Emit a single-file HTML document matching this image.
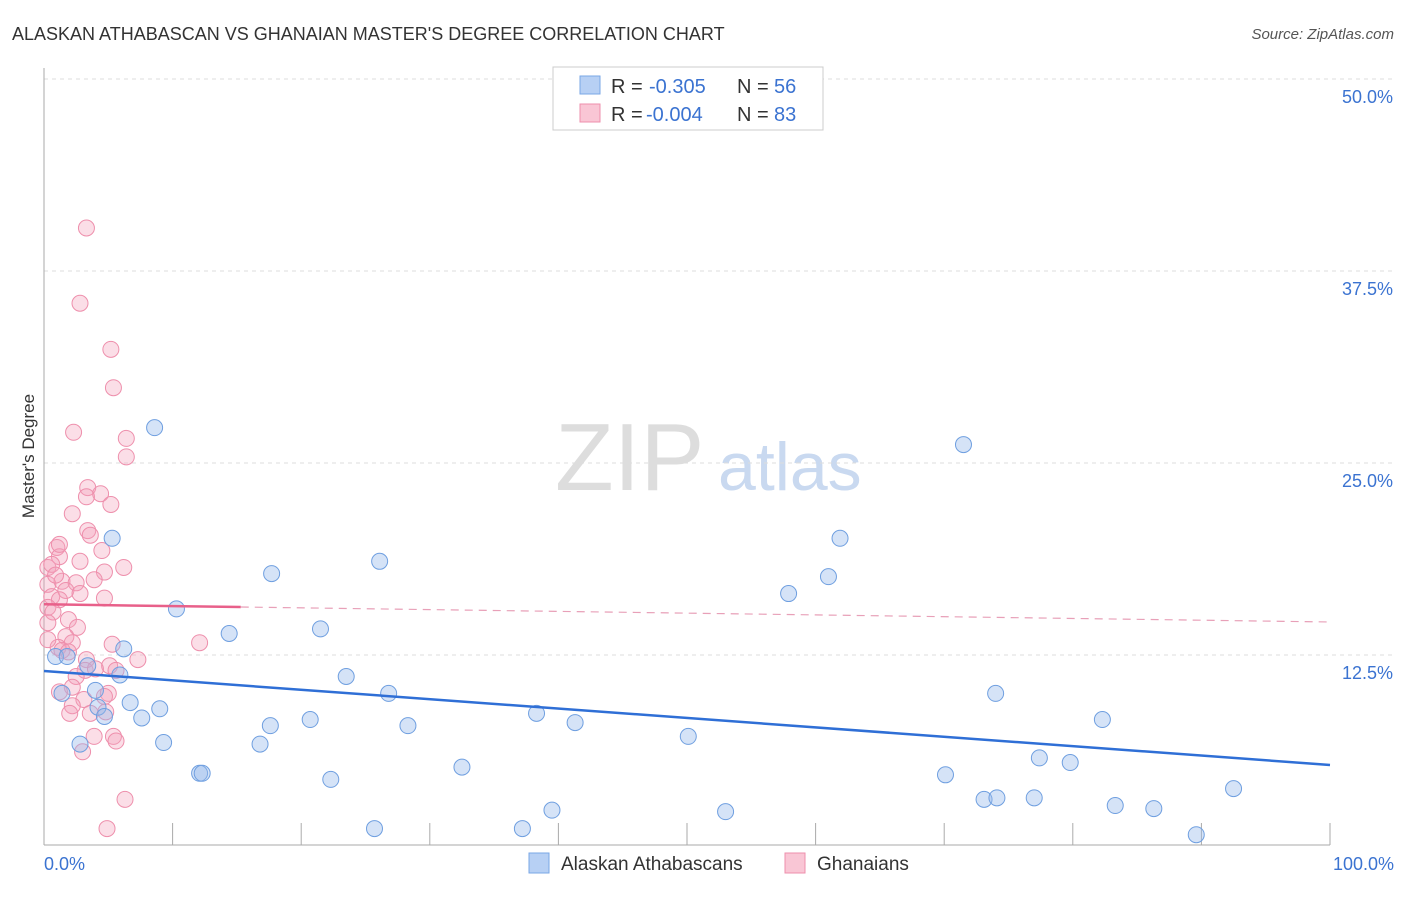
<!DOCTYPE html>
<html><head><meta charset="utf-8"><style>
body{margin:0;background:#fff;font-family:"Liberation Sans",sans-serif;}
svg text{font-family:"Liberation Sans",sans-serif;}
</style></head><body>
<svg id="c" width="1406" height="892">
<text x="12" y="40" font-size="18" fill="#333">ALASKAN ATHABASCAN VS GHANAIAN MASTER'S DEGREE CORRELATION CHART</text>
<text x="1394" y="39" font-size="15" fill="#555" font-style="italic" text-anchor="end">Source: ZipAtlas.com</text>
<text x="34" y="456" font-size="17" fill="#333" text-anchor="middle" transform="rotate(-90 34 456)">Master's Degree</text>
<text x="555" y="490" font-size="96" fill="#ddd" font-family="Liberation Serif">ZIP</text>
<text x="718" y="490" font-size="68" fill="#c9d9f0">atlas</text>
<g id="grid"></g><g id="pts"></g><g id="trend"></g>
<g>
<rect x="553" y="67" width="270" height="63" fill="#fff" stroke="#ccc"/>
<rect x="580" y="76" width="20" height="18" fill="#b7d0f4" stroke="#7aa7e6"/>
<rect x="580" y="104" width="20" height="18" fill="#f9c6d5" stroke="#ee8fac"/>
<g font-size="20">
<text x="611" y="93" fill="#333">R =</text><text x="649" y="93" fill="#3b73d1">-0.305</text>
<text x="737" y="93" fill="#333">N =</text><text x="774" y="93" fill="#3b73d1">56</text></g>
<g font-size="20">
<text x="611" y="121" fill="#333">R =</text><text x="646" y="121" fill="#3b73d1">-0.004</text>
<text x="737" y="121" fill="#333">N =</text><text x="774" y="121" fill="#3b73d1">83</text></g>
</g>
<g>
<rect x="529" y="853" width="20" height="20" fill="#b7d0f4" stroke="#7aa7e6"/>
<text x="561" y="870" font-size="19" fill="#333">Alaskan Athabascans</text>
<rect x="785" y="853" width="20" height="20" fill="#f9c6d5" stroke="#ee8fac"/>
<text x="817" y="870" font-size="19" fill="#333">Ghanaians</text>
</g>
</svg>
<script>
const yTicks=[12.5,25,37.5,50];
const yTickLabels=["12.5%","25.0%","37.5%","50.0%"];
const blueX=[8.6,71.5,5.3,61.9,26.1,17.7,61.0,57.9,10.3,14.4,21.5,6.2,0.9,1.8,23.5,3.4,5.9,4.0,1.4,26.8,74.0,6.7,9.0,4.2,4.7,7.6,20.7,17.6,28.3,38.3,41.3,82.3,2.8,9.3,16.8,50.1,12.1,12.3,32.5,22.3,77.4,79.8,70.1,92.5,73.1,74.1,77.0,39.5,53.0,83.3,86.3,25.7,37.2,89.6];
const blueY=[27.3,26.2,20.1,20.1,18.6,17.8,17.6,16.5,15.5,13.9,14.2,12.9,12.4,12.4,11.1,11.8,11.2,10.2,10.0,10.0,10.0,9.4,9.0,9.1,8.5,8.4,8.3,7.9,7.9,8.7,8.1,8.3,6.7,6.8,6.7,7.2,4.8,4.8,5.2,4.4,5.8,5.5,4.7,3.8,3.1,3.2,3.2,2.4,2.3,2.7,2.5,1.2,1.2,0.8];
const pinkX=[3.3,2.8,5.2,5.4,2.3,6.4,6.4,3.4,4.4,3.3,5.2,2.2,3.4,3.6,4.5,1.0,2.8,1.2,0.3,0.6,6.2,4.7,3.9,1.4,2.5,0.3,1.7,0.6,4.7,1.2,2.8,0.3,0.7,1.9,2.6,0.3,1.7,2.2,1.1,1.4,1.9,5.3,7.3,12.1,3.3,5.1,3.2,4.0,5.6,2.5,2.2,1.2,5.0,4.7,3.1,2.2,2.0,3.6,4.8,3.9,5.4,5.6,3.0,6.3,4.9,1.2,0.9,0.3];
const pinkY=[40.3,35.4,32.4,29.9,27.0,26.6,25.4,23.4,23.0,22.8,22.3,21.7,20.6,20.3,19.3,19.5,18.6,18.9,18.2,18.4,18.2,17.9,17.4,17.3,17.2,17.1,16.7,16.3,16.2,16.1,16.5,15.6,15.3,14.8,14.3,14.6,13.7,13.3,13.0,12.8,12.7,13.2,12.2,13.3,12.2,11.8,11.5,11.6,11.5,11.1,10.4,10.1,10.0,9.8,9.6,9.2,8.7,8.7,8.8,7.2,7.2,6.9,6.2,3.1,1.2,19.7,17.7,13.5];
const blueTrend=[11.46,5.34];
const pinkTrend=[15.8,14.65];
const NS="http://www.w3.org/2000/svg";
const X0=44,X1=1330,Y0=847,PPU=15.36;
const sx=v=>X0+(X1-X0)*v/100, sy=v=>Y0-v*PPU;
function mk(tag,a,parent){const e=document.createElementNS(NS,tag);for(const k in a)e.setAttribute(k,a[k]);document.getElementById(parent).appendChild(e);return e;}
yTicks.forEach((t,i)=>{
 const l=mk('line',{x1:X0,x2:1394,y1:sy(t),y2:sy(t),stroke:'#ddd','stroke-dasharray':'4 4'},'grid');
 
 
 const tx=mk('text',{x:1393,y:sy(t)+24,'font-size':18,fill:'#3b73d1','text-anchor':'end'},'grid');
 tx.textContent=yTickLabels[i];
 
 
});
let ax=mk('line',{x1:X0,x2:X0,y1:68,y2:845,stroke:'#aaa'},'grid');


ax=mk('line',{x1:X0,x2:X1,y1:845,y2:845,stroke:'#aaa'},'grid');


for(let i=0;i<=10;i++){const t=mk('line',{x1:sx(i*10),x2:sx(i*10),y1:823,y2:845,stroke:'#aaa'},'grid');
 
 }
[["0.0%",44,'start'],["100.0%",1394,'end']].forEach(d=>{const t=mk('text',{x:d[1],y:870,'font-size':18,fill:'#3b73d1','text-anchor':d[2]},'grid');t.textContent=d[0];
 
 });
pinkX.forEach((v,i)=>{const c=mk('circle',{cx:sx(v),cy:sy(pinkY[i]),r:8,fill:'rgba(244,160,186,0.35)',stroke:'#ee8fac','stroke-width':1},'pts');
 
 });
blueX.forEach((v,i)=>{const c=mk('circle',{cx:sx(v),cy:sy(blueY[i]),r:8,fill:'rgba(150,185,235,0.4)',stroke:'#6f9fe0','stroke-width':1},'pts');
 
 });
let t=mk('line',{x1:sx(0),y1:sy(blueTrend[0]),x2:sx(100),y2:sy(blueTrend[1]),stroke:'#2f6fd6','stroke-width':2.5},'trend');


const pm=pinkTrend[0]+(pinkTrend[1]-pinkTrend[0])*0.153;
t=mk('line',{x1:sx(0),y1:sy(pinkTrend[0]),x2:sx(15.3),y2:sy(pm),stroke:'#e8608a','stroke-width':2.5},'trend');


t=mk('line',{x1:sx(15.3),y1:sy(pm),x2:sx(100),y2:sy(pinkTrend[1]),stroke:'#e8a0b8','stroke-width':1.2,'stroke-dasharray':'8 6'},'trend');


</script>
</body></html>
